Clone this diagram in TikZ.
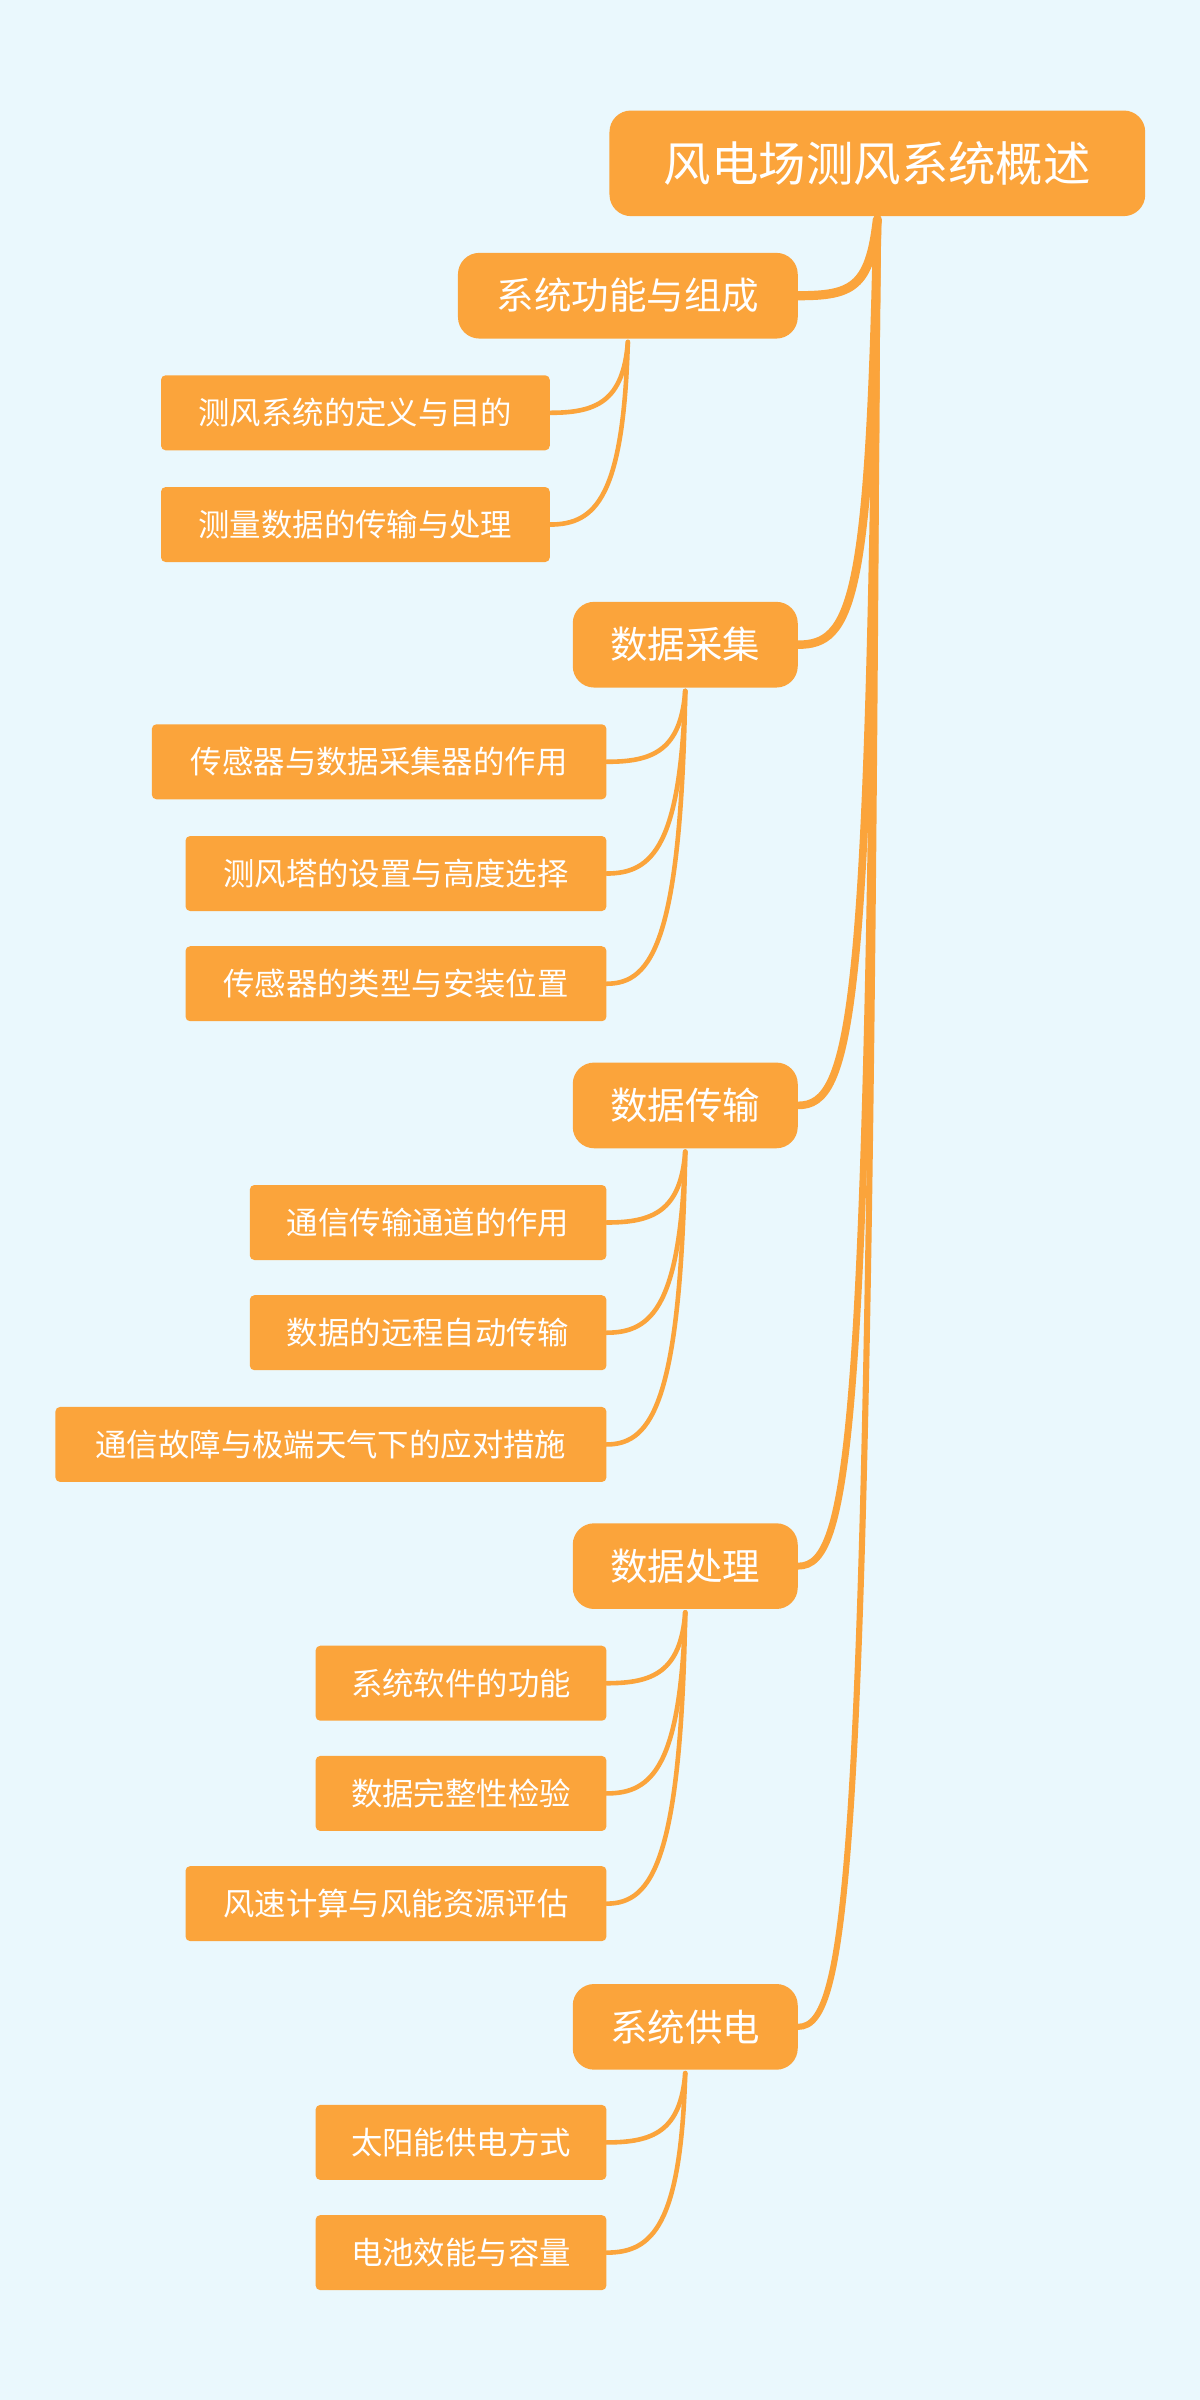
\documentclass[tikz,border=0pt]{standalone}
\usepackage{fontspec}
\usetikzlibrary{calc}
\setmainfont{Noto Sans CJK SC}
\definecolor{bg}{HTML}{EAF8FD}
\definecolor{org}{HTML}{FBA43B}
\begin{document}
\begin{tikzpicture}[x=1pt,y=-1pt,
 box/.style={fill=org,text=white,inner sep=0pt,anchor=north west},
 rootbox/.style={box,rounded corners=14pt,font=\fontsize{31}{32}\selectfont},
 catbox/.style={box,rounded corners=14pt,font=\fontsize{24.5}{25}\selectfont},
 leafbox/.style={box,rounded corners=3pt,font=\fontsize{20.5}{21}\selectfont},
 trunk/.style={draw=org,line width=5pt,line cap=round},
 twig/.style={draw=org,line width=3pt,line cap=round}]
\fill[bg] (0,0) rectangle (784,1568);
\useasboundingbox (0,0) rectangle (784,1568);
\node[rootbox,minimum width=350pt,minimum height=69pt] (r) at (398,72) {风电场测风系统概述};
\node[catbox,minimum width=222pt,minimum height=56pt] (c1) at (299,165) {系统功能与组成};
\node[catbox,minimum width=147pt,minimum height=56pt] (c2) at (374,393) {数据采集};
\node[catbox,minimum width=147pt,minimum height=56pt] (c3) at (374,694) {数据传输};
\node[catbox,minimum width=147pt,minimum height=56pt] (c4) at (374,995) {数据处理};
\node[catbox,minimum width=147pt,minimum height=56pt] (c5) at (374,1296) {系统供电};
\node[leafbox,minimum width=254pt,minimum height=49pt] (l11) at (105,245) {测风系统的定义与目的};
\node[leafbox,minimum width=254pt,minimum height=49pt] (l12) at (105,318) {测量数据的传输与处理};
\node[leafbox,minimum width=297pt,minimum height=49pt] (l21) at (99,473) {传感器与数据采集器的作用};
\node[leafbox,minimum width=275pt,minimum height=49pt] (l22) at (121,546) {测风塔的设置与高度选择};
\node[leafbox,minimum width=275pt,minimum height=49pt] (l23) at (121,618) {传感器的类型与安装位置};
\node[leafbox,minimum width=233pt,minimum height=49pt] (l31) at (163,774) {通信传输通道的作用};
\node[leafbox,minimum width=233pt,minimum height=49pt] (l32) at (163,846) {数据的远程自动传输};
\node[leafbox,minimum width=360pt,minimum height=49pt] (l33) at (36,919) {通信故障与极端天气下的应对措施};
\node[leafbox,minimum width=190pt,minimum height=49pt] (l41) at (206,1075) {系统软件的功能};
\node[leafbox,minimum width=190pt,minimum height=49pt] (l42) at (206,1147) {数据完整性检验};
\node[leafbox,minimum width=275pt,minimum height=49pt] (l43) at (121,1219) {风速计算与风能资源评估};
\node[leafbox,minimum width=190pt,minimum height=49pt] (l51) at (206,1375) {太阳能供电方式};
\node[leafbox,minimum width=190pt,minimum height=49pt] (l52) at (206,1447) {电池效能与容量};
% trunk
\foreach \c/\w in {c1/6,c2/5.5,c3/5,c4/4.5,c5/4}{
 \draw[trunk,line width=\w pt] ([yshift=-2pt]r.south) .. controls ($(r.south)!0.9!(r.south|-\c.east)+(-5,0)$) and ($(\c.east)+(35,0)$) .. (\c.east);
}
% twigs
\foreach \c/\l in {c1/l11,c1/l12,c2/l21,c2/l22,c2/l23,c3/l31,c3/l32,c3/l33,c4/l41,c4/l42,c4/l43,c5/l51,c5/l52}{
 \draw[twig] ([yshift=-2pt]\c.south) .. controls ($(\c.south)!0.85!(\c.south|-\l.east)+(-3,0)$) and ($(\l.east)+(30,0)$) .. (\l.east);
}
\end{tikzpicture}
\end{document}
